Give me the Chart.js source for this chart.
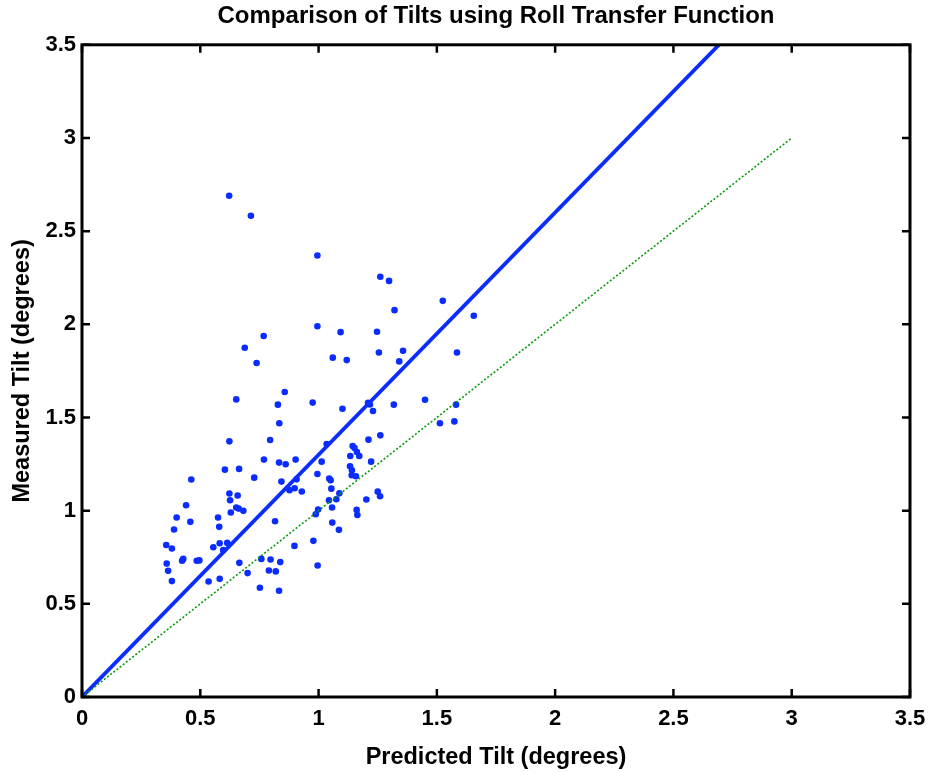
<!DOCTYPE html>
<html><head><meta charset="utf-8">
<script src="https://cdn.jsdelivr.net/npm/chart.js@4.4.0/dist/chart.umd.min.js"></script>
<style>html,body{margin:0;padding:0;background:#fff;}#wrap{width:930px;height:772px;}</style>
</head><body><div id="wrap"><canvas id="c" width="930" height="772"></canvas></div>
<script>
const predictedTilt = [0.622,0.714,0.995,0.995,0.768,0.688,0.738,0.857,0.652,0.975,
1.261,1.298,1.525,1.321,1.656,1.093,1.247,1.060,1.119,1.255,
1.357,1.341,1.585,1.450,1.209,1.217,0.828,0.834,0.623,0.795,
0.769,0.833,0.861,0.903,0.604,0.664,0.728,0.462,0.843,0.907,
0.995,0.877,0.899,0.929,0.623,0.658,0.626,0.440,0.652,0.662,
0.682,0.629,0.400,0.575,0.458,0.580,0.816,0.389,0.998,0.988,
0.356,0.380,0.555,0.582,0.614,0.597,0.898,0.978,0.358,0.423,
0.428,0.485,0.496,0.665,0.758,0.797,0.838,0.996,0.364,0.700,
0.790,0.819,0.380,0.535,0.582,0.752,0.833,1.101,1.230,1.318,
1.581,1.513,1.574,1.034,1.261,1.211,1.144,1.152,1.162,1.172,
1.134,1.013,1.222,1.133,1.141,1.140,1.158,1.045,1.051,1.054,
1.088,1.075,1.044,1.057,1.250,1.260,1.202,1.161,1.164,1.058,1.086];
const measuredTilt = [2.690,2.583,2.369,1.990,1.937,1.874,1.792,1.637,1.597,1.580,
2.255,2.233,2.126,2.076,2.046,1.958,1.960,1.821,1.808,1.849,
1.858,1.801,1.849,1.595,1.579,1.570,1.569,1.469,1.372,1.379,
1.274,1.258,1.249,1.274,1.220,1.224,1.177,1.167,1.156,1.168,
1.197,1.110,1.120,1.103,1.092,1.081,1.056,1.029,1.017,1.011,
0.999,0.990,0.963,0.963,0.940,0.913,0.943,0.899,1.006,0.981,
0.816,0.797,0.804,0.825,0.827,0.788,0.811,0.838,0.716,0.731,
0.741,0.731,0.733,0.720,0.741,0.738,0.724,0.706,0.677,0.665,
0.679,0.674,0.622,0.620,0.634,0.586,0.570,1.547,1.535,1.569,
1.569,1.469,1.479,1.358,1.404,1.381,1.347,1.336,1.315,1.293,
1.293,1.263,1.263,1.238,1.217,1.190,1.185,1.172,1.163,1.118,
1.093,1.061,1.056,1.017,1.102,1.077,1.060,1.004,0.977,0.936,0.897];
const fitLineX = [0, 3];
const fitLineY = [0, 3.9];
const unityLineX = [0, 3];
const unityLineY = [0, 3];
const tickValues = [0, 0.5, 1, 1.5, 2, 2.5, 3, 3.5];
const tickLabels = ['0', '0.5', '1', '1.5', '2', '2.5', '3', '3.5'];
const chartTitle = 'Comparison of Tilts using Roll Transfer Function';
const xTitle = 'Predicted Tilt (degrees)';
const yTitle = 'Measured Tilt (degrees)';

const FAMILY = "'Liberation Sans', Arial, sans-serif";
const BLUE = '#0a2cff';

const toPts = (xs, ys) => xs.map((v, i) => ({x: v, y: ys[i]}));

const framePlugin = {
  id: 'frame',
  afterDraw(chart) {
    const {ctx, chartArea: a, scales: {x, y}} = chart;
    ctx.save();
    ctx.strokeStyle = '#000';
    ctx.lineWidth = 3;
    ctx.strokeRect(a.left, a.top, a.right - a.left, a.bottom - a.top);
    ctx.lineWidth = 2.5;
    const L = 8;
    ctx.beginPath();
    tickValues.forEach(v => {
      const px = x.getPixelForValue(v);
      ctx.moveTo(px, a.bottom); ctx.lineTo(px, a.bottom - L);
      ctx.moveTo(px, a.top); ctx.lineTo(px, a.top + L);
      const py = y.getPixelForValue(v);
      ctx.moveTo(a.left, py); ctx.lineTo(a.left + L, py);
      ctx.moveTo(a.right, py); ctx.lineTo(a.right - L, py);
    });
    ctx.stroke();
    ctx.restore();
  }
};

const tickFont = {family: FAMILY, size: 22, weight: 'bold'};
const titleFont = {family: FAMILY, size: 24, weight: 'bold'};
const axisTitleFont = {family: FAMILY, size: 23.5, weight: 'bold'};

new Chart(document.getElementById('c'), {
  type: 'scatter',
  data: {
    datasets: [
      {
        label: 'Measured vs predicted',
        data: toPts(predictedTilt, measuredTilt),
        backgroundColor: BLUE,
        borderWidth: 0,
        pointRadius: 3.3,
        pointHoverRadius: 3.3,
        order: 3
      },
      {
        label: 'Fit',
        data: toPts(fitLineX, fitLineY),
        showLine: true,
        borderColor: BLUE,
        borderWidth: 3.8,
        pointRadius: 0,
        fill: false,
        clip: 0,
        order: 2
      },
      {
        label: 'Unity',
        data: toPts(unityLineX, unityLineY),
        showLine: true,
        borderColor: '#079a07',
        borderWidth: 1.6,
        borderDash: [2, 2],
        pointRadius: 0,
        fill: false,
        clip: 0,
        order: 1
      }
    ]
  },
  options: {
    responsive: false,
    animation: false,
    devicePixelRatio: 1,
    layout: {padding: {left: 0, right: 20, top: 0, bottom: 0}},
    plugins: {
      legend: {display: false},
      tooltip: {enabled: false},
      title: {
        display: true,
        text: chartTitle,
        color: '#000',
        font: titleFont,
        padding: {top: 2, bottom: 14},
        fullSize: false
      }
    },
    scales: {
      x: {
        type: 'linear',
        min: 0, max: 3.5,
        afterBuildTicks: s => { s.ticks = tickValues.map(v => ({value: v})); },
        afterFit: s => { s.height = 75; s.paddingRight = 0; s.paddingLeft = 0; },
        ticks: {
          callback: (v, i) => tickLabels[i],
          color: '#000', font: tickFont, padding: 9,
          maxRotation: 0, autoSkip: false
        },
        grid: {display: false, drawTicks: false},
        border: {display: false},
        title: {display: true, text: xTitle, color: '#000', font: axisTitleFont, padding: {top: 0, bottom: 0}}
      },
      y: {
        type: 'linear',
        min: 0, max: 3.5,
        afterBuildTicks: s => { s.ticks = tickValues.map(v => ({value: v})); },
        afterFit: s => { s.width = 82; },
        ticks: {
          callback: (v, i) => tickLabels[i],
          color: '#000', font: tickFont, padding: 6,
          autoSkip: false
        },
        grid: {display: false, drawTicks: false},
        border: {display: false},
        title: {display: true, text: yTitle, color: '#000', font: axisTitleFont, padding: {top: 8, bottom: 0}}
      }
    }
  },
  plugins: [framePlugin]
});
</script></body></html>
